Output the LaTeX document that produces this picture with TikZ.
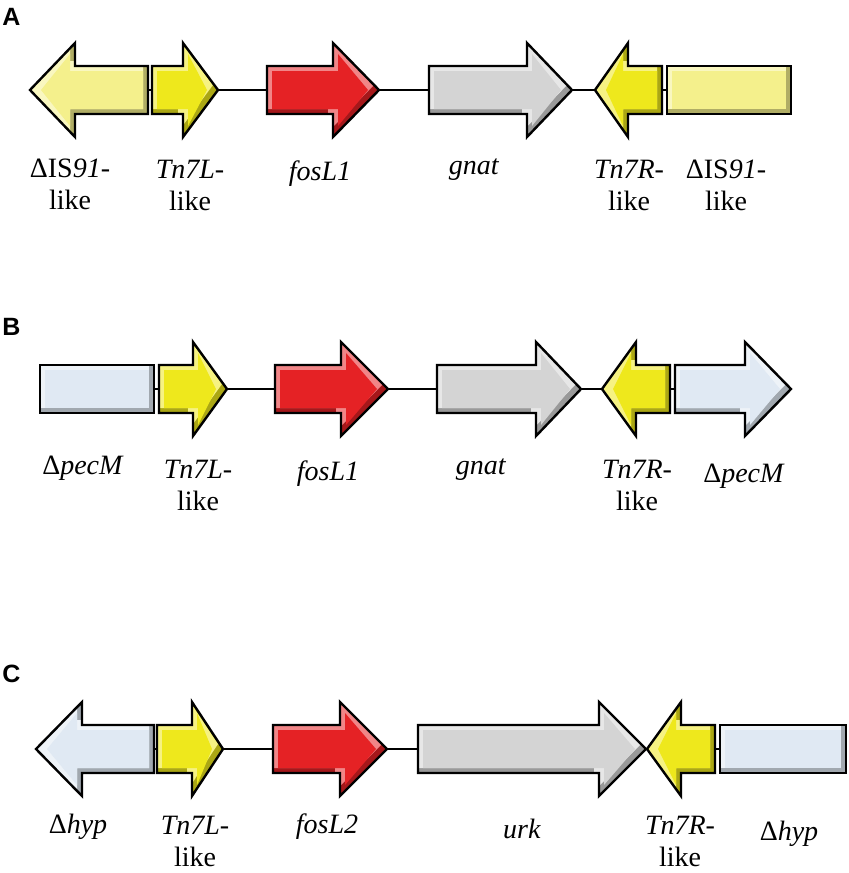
\documentclass[tikz,border=0pt]{standalone}
\usepackage{fontspec}
\setmainfont{Liberation Serif}
\newfontfamily\panelfont{Liberation Sans}

\definecolor{islike}{HTML}{F4F08C}
\definecolor{tnseven}{HTML}{EEE81C}
\definecolor{fosred}{HTML}{E52225}
\definecolor{gnatgrey}{HTML}{D4D4D4}
\definecolor{pecblue}{HTML}{E0E9F3}

% gene drawn as a bevelled arrow: name, tail, head base, tip, centre line, colour
\newcommand{\genarrow}[6]{%
  \pgfmathsetmacro{\gnS}{(#4>#2)?1:-1}
  \pgfmathsetmacro{\gnW}{min(#2,#4)}
  \pgfmathsetmacro{\gnE}{max(#2,#4)}
  \def\gnpath{(#2,#5-24) -- (#3,#5-24) -- (#3,#5-47) -- (#4,#5) -- (#3,#5+47) -- (#3,#5+24) -- (#2,#5+24) -- cycle}
  \begin{scope}
    \clip \gnpath;
    \fill[#6!72!black] \gnpath;
    \fill[#6!55!white, shift={(-5,-5)}] \gnpath;
    \fill[#6] (#2+\gnS*5,#5-19) -- (#3+\gnS*5,#5-19) -- (#3+\gnS*5,#5-36) -- (#4-\gnS*11,#5)
      -- (#3+\gnS*5,#5+36) -- (#3+\gnS*5,#5+19) -- (#2+\gnS*5,#5+19) -- cycle;
  \end{scope}
  \draw[outline] \gnpath;
  \coordinate (#1-w) at (\gnW,#5);
  \coordinate (#1-e) at (\gnE,#5);
}

% truncated gene, a bevelled box: name, left, right, centre line, colour
\newcommand{\genbox}[5]{%
  \begin{scope}
    \clip (#2,#4-24) rectangle (#3,#4+24);
    \fill[#5!72!black] (#2,#4-24) rectangle (#3,#4+24);
    \fill[#5!55!white] (#2-5,#4-29) rectangle (#3-5,#4+19);
    \fill[#5] (#2+5,#4-19) rectangle (#3-5,#4+19);
  \end{scope}
  \draw[outline] (#2,#4-24) rectangle (#3,#4+24);
  \coordinate (#1-w) at (#2,#4);
  \coordinate (#1-e) at (#3,#4);
}

\begin{document}
\begin{tikzpicture}[x=0.5pt, y=-0.5pt,
    outline/.style={draw=black, line width=1.2pt, line join=miter},
    spine/.style={line width=1pt},
    panel/.style={anchor=north west, inner sep=0pt, font=\panelfont\bfseries\fontsize{12.5}{12.5}\selectfont},
    glabel/.style={anchor=north, align=center, inner sep=0pt,
        font=\fontsize{14}{16}\selectfont, execute at begin node=\strut}]
\useasboundingbox (0,0) rectangle (848,873);

% A
\node[panel] (pA) at (2,8) {A};
\genarrow{a1}{148}{75}{30}{90}{islike}
\genarrow{a2}{152}{183}{218}{90}{tnseven}
\genarrow{a3}{267}{333}{379}{90}{fosred}
\genarrow{a4}{429}{527}{572}{90}{gnatgrey}
\genarrow{a5}{662}{628}{595}{90}{tnseven}
\genbox{a6}{667}{791}{90}{islike}
\foreach \p/\q in {a1/a2,a2/a3,a3/a4,a4/a5,a5/a6}
  \draw[spine] (\p-e) -- (\q-w);
\node[glabel] (la1) at (70,159) {ΔIS\textit{91}-\\like};
\node[glabel] (la2) at (190,160) {\textit{Tn7L}-\\like};
\node[glabel] (la3) at (320,158) {\textit{fosL1}};
\node[glabel] (la4) at (474,152) {\textit{gnat}};
\node[glabel] (la5) at (629,160) {\textit{Tn7R}-\\like};
\node[glabel] (la6) at (726,160) {ΔIS\textit{91}-\\like};

% B
\node[panel] (pB) at (2,318) {B};
\genbox{b1}{40}{154}{389}{pecblue}
\genarrow{b2}{159}{193}{227}{389}{tnseven}
\genarrow{b3}{275}{341}{388}{389}{fosred}
\genarrow{b4}{437}{536}{581}{389}{gnatgrey}
\genarrow{b5}{670}{636}{602}{389}{tnseven}
\genarrow{b6}{675}{745}{791}{389}{pecblue}
\foreach \p/\q in {b1/b2,b2/b3,b3/b4,b4/b5,b5/b6}
  \draw[spine] (\p-e) -- (\q-w);
\node[glabel] (lb1) at (83,452) {Δ\textit{pecM}};
\node[glabel] (lb2) at (198,460) {\textit{Tn7L}-\\like};
\node[glabel] (lb3) at (328,458) {\textit{fosL1}};
\node[glabel] (lb4) at (481,452) {\textit{gnat}};
\node[glabel] (lb5) at (637,460) {\textit{Tn7R}-\\like};
\node[glabel] (lb6) at (744,460) {Δ\textit{pecM}};

% C
\node[panel] (pC) at (2,665) {C};
\genarrow{c1}{154}{82}{36}{749}{pecblue}
\genarrow{c2}{157}{192}{223}{749}{tnseven}
\genarrow{c3}{273}{340}{387}{749}{fosred}
\genarrow{c4}{418}{599}{646}{749}{gnatgrey}
\genarrow{c5}{715}{681}{647}{749}{tnseven}
\genbox{c6}{720}{846}{749}{pecblue}
\foreach \p/\q in {c1/c2,c2/c3,c3/c4,c4/c5,c5/c6}
  \draw[spine] (\p-e) -- (\q-w);
\node[glabel] (lc1) at (78,811) {Δ\textit{hyp}};
\node[glabel] (lc2) at (195,816) {\textit{Tn7L}-\\like};
\node[glabel] (lc3) at (327,811) {\textit{fosL2}};
\node[glabel] (lc4) at (522,816) {\textit{urk}};
\node[glabel] (lc5) at (680,816) {\textit{Tn7R}-\\like};
\node[glabel] (lc6) at (789,818) {Δ\textit{hyp}};
\end{tikzpicture}
\end{document}
